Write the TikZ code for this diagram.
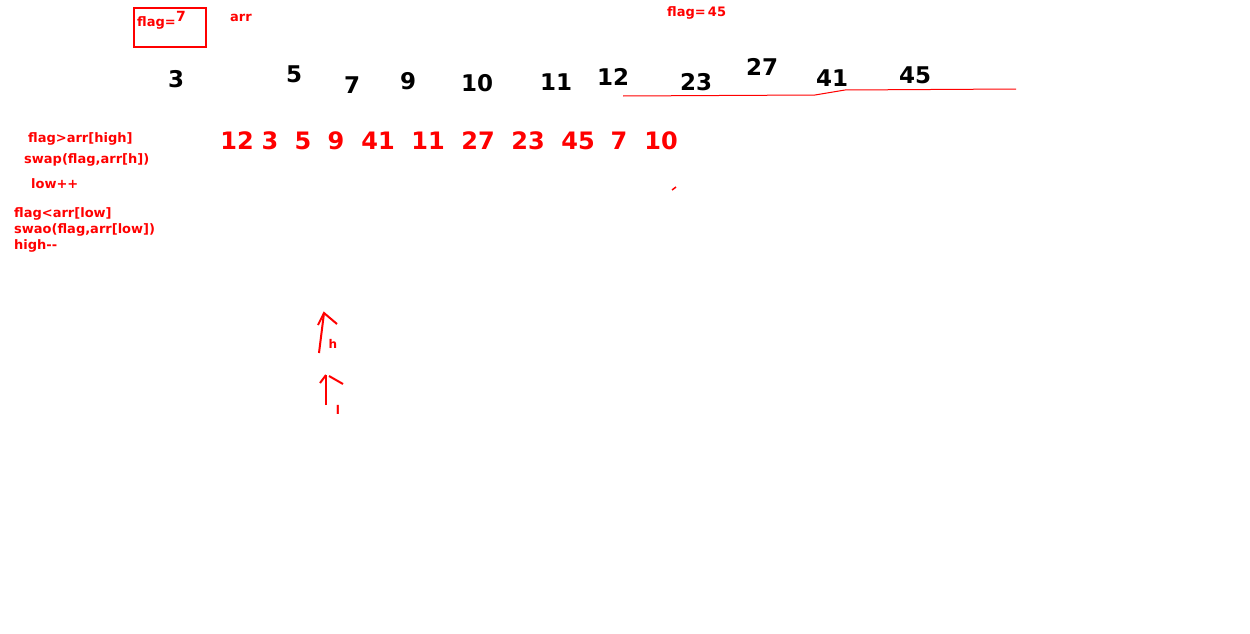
\documentclass[tikz,border=0pt]{standalone}
\usepackage{fontspec}
\setmainfont{DejaVu Sans}
\begin{document}
\begin{tikzpicture}[x=1pt,y=-1pt,
  blk/.style={font=\fontsize{23}{26}\selectfont\bfseries, text=black, inner sep=0pt},
  rnum/.style={font=\fontsize{24}{27}\selectfont\bfseries, text=red, inner sep=0pt},
  note/.style={font=\fontsize{13}{15}\selectfont\bfseries, text=red, inner sep=0pt, anchor=west},
  pen/.style={draw=red, line width=2pt}]
\useasboundingbox (0,0) rectangle (1250,634);
% flag box
\node[pen, minimum width=72pt, minimum height=39pt, anchor=north west, inner sep=0pt] (box) at (133,7) {};
\node[note] (flagtxt) at (137,23) {flag=};
\node[font=\fontsize{14}{16}\selectfont\bfseries, text=red, inner sep=0pt, anchor=west] (seven) at (176,16) {7};
\node[note] (arr) at (230,18) {arr};
\node[note] (flag45) at (667,13) {flag=\,45};
% black numbers
\node[blk] (b3) at (176,79) {3};
\node[blk] (b5) at (294,74) {5};
\node[blk] (b7) at (352,85) {7};
\node[blk] (b9) at (408,81) {9};
\node[blk] (b10) at (477,83) {10};
\node[blk] (b11) at (556,82) {11};
\node[blk] (b12) at (613,77) {12};
\node[blk] (b23) at (696,82) {23};
\node[blk] (b27) at (762,67) {27};
\node[blk] (b41) at (832,78) {41};
\node[blk] (b45) at (915,75) {45};
% underline
\coordinate (u1) at (623,96);
\coordinate (u2) at (815,95);
\coordinate (u3) at (845,90);
\coordinate (u4) at (1016,89);
\draw[red, line width=1pt] (u1) -- (u2) -- (u3) -- (u4);
% red numbers
\node[rnum] (r1) at (237,141) {12};
\node[rnum] (r2) at (270,141) {3};
\node[rnum] (r3) at (303,141) {5};
\node[rnum] (r4) at (336,141) {9};
\node[rnum] (r5) at (378,141) {41};
\node[rnum] (r6) at (428,141) {11};
\node[rnum] (r7) at (478,141) {27};
\node[rnum] (r8) at (528,141) {23};
\node[rnum] (r9) at (578,141) {45};
\node[rnum] (r10) at (619,141) {7};
\node[rnum] (r11) at (661,141) {10};
\coordinate (m1) at (672,190);
\coordinate (m2) at (676,187);
\draw[red, line width=1.5pt] (m1) -- (m2);
% notes
\node[note] (n1) at (28,139) {flag>arr[high]};
\node[note] (n2) at (24,160) {swap(flag,arr[h])};
\node[note] (n3) at (31,184) {low++};
\node[note] (n4) at (14,214) {flag<arr[low]};
\node[note] (n5) at (14,230) {swao(flag,arr[low])};
\node[note] (n6) at (14,246) {high-{}-};
% pointer h
\coordinate (h0) at (319,353);
\coordinate (h1) at (324,313);
\coordinate (h2) at (318,325);
\coordinate (h3) at (337,324);
\draw[pen] (h0) -- (h1);
\draw[pen] (h2) -- (h1) -- (h3);
\node[font=\fontsize{12}{14}\selectfont\bfseries, text=red, inner sep=0pt] (hl) at (333,344) {h};
% pointer l
\coordinate (l0) at (326,405);
\coordinate (l1) at (326,375);
\coordinate (l2) at (320,383);
\coordinate (l3) at (343,384);
\draw[pen] (l0) -- (l1);
\draw[pen] (l2) -- (l1);
\draw[pen] (329,376) -- (l3);
\node[font=\fontsize{12}{14}\selectfont\bfseries, text=red, inner sep=0pt] (ll) at (338,410) {l};
\end{tikzpicture}
\end{document}
